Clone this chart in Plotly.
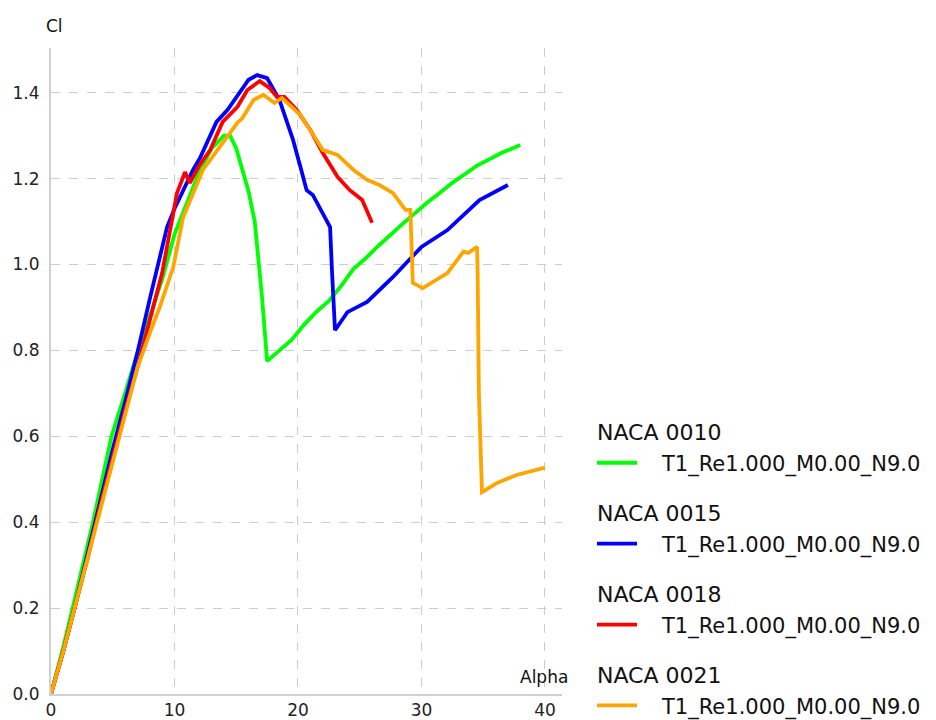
import plotly.graph_objects as go

# Lift coefficient polars, XFoil-style runs (Re 1e6, M 0, Ncrit 9)
alpha_0010 = [0, 1, 2, 3, 3.4, 4, 4.9, 6, 7, 8, 9, 10, 11, 12, 13, 14, 14.5, 15, 15.5, 16,
              16.5, 16.8, 17.1, 17.5, 18.5, 19.5, 20.5, 21.5, 22.5, 23.5, 24.5, 25.5, 26.5,
              27.5, 28.5, 29.5, 30.5, 31.5, 32.5, 33.5, 34.5, 35.5, 36.5, 37.5, 38]
cl_0010 = [0, 0.11, 0.23, 0.35, 0.40, 0.48, 0.60, 0.70, 0.795, 0.88, 0.965, 1.07, 1.14,
           1.215, 1.27, 1.30, 1.30, 1.27, 1.22, 1.17, 1.10, 1.02, 0.92, 0.775, 0.80,
           0.825, 0.86, 0.89, 0.915, 0.95, 0.99, 1.015, 1.043, 1.07, 1.095, 1.12, 1.145,
           1.167, 1.19, 1.21, 1.23, 1.245, 1.26, 1.272, 1.278]

alpha_0015 = [0, 1, 2, 3, 4, 5, 6, 7, 8, 8.8, 9.4, 10, 10.7, 11.5, 12.1, 13.4, 14.3, 15.3,
              16, 16.7, 17.5, 18.5, 19.6, 20.2, 20.7, 21.2, 22.0, 22.6, 22.75, 23.0, 24.0,
              25.6, 27.7, 30.0, 32.1, 34.7, 37.0]
cl_0015 = [0, 0.10, 0.21, 0.33, 0.45, 0.57, 0.68, 0.795, 0.92, 1.02, 1.087, 1.13, 1.173,
           1.22, 1.25, 1.332, 1.36, 1.40, 1.43, 1.441, 1.434, 1.383, 1.29, 1.227, 1.173,
           1.162, 1.12, 1.087, 0.987, 0.847, 0.889, 0.913, 0.971, 1.041, 1.08, 1.15, 1.185]

alpha_0018 = [0, 1, 2, 3, 4, 5, 6, 7, 8, 9, 10.2, 10.85, 11.25, 12.0, 12.9, 13.9, 15.1,
              15.9, 16.9, 17.7, 18.3, 18.9, 19.9, 21.0, 22.0, 23.2, 24.2, 25.2, 26.0]
cl_0018 = [0, 0.10, 0.21, 0.32, 0.44, 0.55, 0.66, 0.76, 0.87, 0.98, 1.166, 1.215, 1.19,
           1.23, 1.267, 1.332, 1.367, 1.406, 1.427, 1.411, 1.39, 1.39, 1.36, 1.313, 1.26,
           1.204, 1.173, 1.15, 1.097]

alpha_0021 = [0, 1, 2, 3, 4, 5, 6, 7, 8, 8.8, 9.9, 10.7, 12.3, 13.7, 15.1, 15.5, 16.4,
              17.2, 18.1, 18.7, 20.2, 21.5, 22.0, 23.2, 24.5, 25.6, 26.6, 27.7, 28.7, 29.1,
              29.3, 30.1, 32.1, 33.4, 33.8, 34.5, 34.55, 34.65, 34.8, 34.9, 36.1, 37.7, 40.0]
cl_0021 = [0, 0.10, 0.21, 0.32, 0.43, 0.54, 0.65, 0.76, 0.84, 0.90, 0.994, 1.11, 1.22,
           1.274, 1.33, 1.341, 1.383, 1.395, 1.376, 1.388, 1.348, 1.29, 1.267, 1.255,
           1.22, 1.197, 1.185, 1.166, 1.127, 1.127, 0.957, 0.945, 0.98, 1.03, 1.027, 1.041,
           0.98, 0.70, 0.55, 0.47, 0.491, 0.51, 0.527]

foils = ["NACA 0010", "NACA 0015", "NACA 0018", "NACA 0021"]
run_label = "T1_Re1.000_M0.00_N9.0"
colors = ["#00ff00", "#0000ff", "#ff0000", "#ffa500"]
series = [(alpha_0010, cl_0010), (alpha_0015, cl_0015),
          (alpha_0018, cl_0018), (alpha_0021, cl_0021)]

x_ticks = [0, 10, 20, 30, 40]
y_ticks = [0.0, 0.2, 0.4, 0.6, 0.8, 1.0, 1.2, 1.4]

fig = go.Figure()
for foil, col, (a, cl) in zip(foils, colors, series):
    fig.add_trace(go.Scatter(
        x=a, y=cl, mode="lines", name="\u00a0\u00a0\u00a0" + run_label,
        legendgroup=foil,
        legendgrouptitle=dict(text=foil, font=dict(family="DejaVu Sans", size=22, color="#111")),
        line=dict(color=col, width=3.8),
    ))

axis_common = dict(
    showline=True, linecolor="#d0d0d0", linewidth=2,
    showgrid=True, gridcolor="#cccccc", griddash="dash", gridwidth=1,
    zeroline=False, ticks="", automargin=False,
    tickfont=dict(family="DejaVu Sans", size=17, color="#222"),
)

fig.update_xaxes(range=[0, 41.38], tickvals=x_ticks, ticktext=[str(v) for v in x_ticks],
                 ticklabelstandoff=0, **axis_common)
fig.update_yaxes(range=[0, 1.504], tickvals=y_ticks, ticktext=[f"{v:.1f}" for v in y_ticks],
                 ticklabelstandoff=6, **axis_common)

fig.add_annotation(text="Cl", xref="paper", yref="paper", x=-0.0, y=1.0, yshift=22,
                   xanchor="center", yanchor="middle", showarrow=False,
                   font=dict(family="DejaVu Sans", size=17, color="#111"), xshift=3)
fig.add_annotation(text="Alpha", xref="paper", yref="paper", x=1.0, y=0.0, yshift=17,
                   xshift=-18, xanchor="center", yanchor="middle", showarrow=False,
                   font=dict(family="DejaVu Sans", size=17, color="#111"))

fig.update_layout(
    width=936, height=720,
    margin=dict(l=51, r=374, t=48, b=26),
    paper_bgcolor="white", plot_bgcolor="white",
    showlegend=True,
    legend=dict(xref="container", yref="container",
                x=592 / 936, xanchor="left", y=1 - 411 / 720, yanchor="top",
                font=dict(family="DejaVu Sans", size=21, color="#111"),
                tracegroupgap=19, itemwidth=40, bgcolor="rgba(0,0,0,0)"),
)

fig.write_html("out.html")
